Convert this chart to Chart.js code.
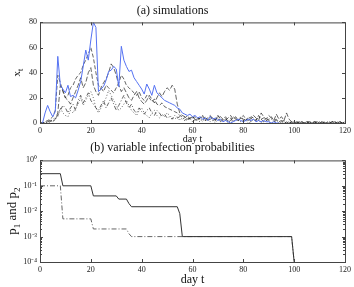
<!DOCTYPE html>
<html>
<head>
<meta charset="utf-8">
<script src="https://cdn.jsdelivr.net/npm/chart.js@4/dist/chart.umd.min.js"></script>
<style>
  body { margin: 0; background: #fff; }
  #wrap { position: relative; width: 354px; height: 287px; }
  canvas { position: absolute; left: 0; }
  #top { top: 0; }
  #bot { top: 140px; }
</style>
</head>
<body>
<div id="wrap">
  <canvas id="top" width="354" height="145"></canvas>
  <canvas id="bot" width="354" height="147"></canvas>
</div>
<script>
// (a) simulations, one value per day 0..120
const days = [];
for (let d = 0; d <= 120; d++) days.push(d);

const blueRun = [null, 0, 8, 14, 9, 5, 9, 53, 30, 27, 24,
  30, 21, 22, 20, 26, 33, 45, 58, 50, 66,
  80, 76, 25, 27, 29, 34, 41, 42, 45, 43,
  29, 61, 50, 45, 41, 42, 36, 33, 30, 27,
  23, 31, 27, 22, 30, 24, 22, 20, 18, 17,
  16, 15, 14, 12, 11, 8, 7, 6, 7, 5,
  6, 4, 5, 3, 4, 2, 5, 3, 4, 2,
  3, 1, 2, 1, 0, 1, 2, 3, 2, 1,
  2, 3, 2, 3, 1, 2, 1, 2, 1, 1,
  0, 1, 0, 0];

const simA = [0, 0, 1, 2, 3, 5, 10, 38, 32, 25, 20,
  22, 28, 30, 35, 38, 40, 46, 50, 55, 60,
  52, 40, 30, 28, 25, 30, 28, 26, 24, 28,
  32, 38, 35, 30, 28, 26, 24, 22, 25, 20,
  18, 22, 20, 17, 19, 15, 14, 16, 13, 12,
  11, 10, 9, 8, 6, 5, 4, 6, 3, 4,
  5, 3, 4, 6, 2, 3, 5, 4, 2, 6,
  3, 2, 4, 1, 2, 5, 3, 2, 4, 6,
  3, 2, 5, 4, 2, 6, 3, 4, 2, 3,
  5, 2, 3, 1, 2, 1, 0, 1, 0, 0,
  0, 1, 0, 0, 1, 0, 0, 1, 0, 0, 1, 0, 0, 0, 1, 0, 0, 1, 0, 0];

const simB = [0, 0, 0, 1, 2, 1, 3, 8, 30, 26, 20,
  18, 15, 20, 25, 30, 36, 28, 32, 40, 44,
  30, 25, 22, 28, 32, 35, 40, 47, 44, 38,
  30, 25, 28, 24, 20, 18, 22, 25, 20, 17,
  15, 18, 22, 19, 16, 20, 24, 21, 25, 28,
  26, 30, 27, 15, 8, 6, 5, 3, 4, 5,
  3, 2, 4, 5, 3, 4, 6, 2, 3, 4,
  5, 3, 2, 4, 6, 3, 5, 2, 4, 3,
  2, 5, 3, 6, 4, 2, 8, 5, 3, 6,
  4, 2, 7, 3, 5, 2, 8, 3, 1, 0,
  1, 0, 1, 0, 0, 1, 0, 0, 1, 0, 0, 1, 0, 0, 0, 1, 0, 1, 0, 0];

const simC = [0, 0, 0, 0, 1, 3, 4, 6, 10, 14, 12,
  8, 12, 15, 10, 18, 22, 16, 20, 24, 18,
  15, 12, 10, 14, 18, 12, 16, 20, 15, 10,
  14, 18, 22, 16, 12, 15, 10, 8, 12, 9,
  7, 10, 12, 8, 6, 10, 8, 5, 7, 4,
  5, 3, 6, 4, 5, 3, 2, 4, 3, 5,
  2, 4, 3, 1, 5, 2, 3, 4, 2, 6,
  1, 3, 5, 2, 4, 1, 3, 2, 5, 3,
  2, 4, 1, 3, 2, 5, 3, 1, 4, 2,
  3, 1, 2, 0, 1, 2, 1, 0, 1, 0,
  1, 0, 1, 0, 1, 1, 0, 1, 0, 1, 1, 0, 1, 0, 1, 1, 0, 1, 0, 1];

const simD = [0, 0, 0, 1, 2, 1, 3, 5, 12, 8, 6,
  5, 10, 8, 12, 15, 20, 14, 18, 22, 25,
  20, 12, 8, 12, 16, 20, 26, 22, 18, 14,
  10, 12, 15, 18, 14, 10, 8, 6, 10, 12,
  8, 6, 4, 8, 10, 6, 4, 7, 5, 8,
  6, 4, 3, 5, 2, 4, 3, 2, 4, 1,
  3, 2, 1, 4, 2, 3, 1, 2, 0, 3,
  2, 1, 3, 0, 2, 1, 4, 2, 1, 3,
  2, 0, 1, 3, 1, 2, 0, 1, 2, 1,
  0, 1, 2, 1, 0, 1, 0, 1, 0, 1,
  0, 1, 1, 0, 0, 1, 0, 1, 1, 0, 1, 0, 0, 1, 1, 0, 1, 0, 0, 1];

// (b) variable infection probabilities, [day, p]
const p1Points = [[0, 0.3], [8, 0.3], [9, 0.1], [20, 0.1], [21, 0.04], [30, 0.04], [31, 0.03],
  [34, 0.03], [35, 0.02], [36, 0.015], [54, 0.015], [55, 0.008], [56, 0.001], [99, 0.001], [100, 0.0001], [101, 0.00001]];
const p2Points = [[0, 0.1], [8, 0.1], [9, 0.005], [20, 0.005], [21, 0.002], [34, 0.002],
  [35, 0.0013], [36, 0.001], [99, 0.001], [100, 0.0001], [101, 0.00001]];

const xTicks = [0, 20, 40, 60, 80, 100, 120];
const logTicks = [1e-4, 1e-3, 1e-2, 1e-1, 1];
const logLabels = ['10\u207B\u2074', '10\u207B\u00B3', '10\u207B\u00B2', '10\u207B\u00B9', '10\u2070'];

const serif = 'Liberation Serif';
const tickFont = { family: serif, size: 8 };

// frame, inward ticks, and y titles with subscripts
const frameTicks = {
  id: 'frameTicks',
  afterDraw(chart, args, opts) {
    const { ctx, chartArea: a } = chart;
    const xs = chart.scales.x, ys = chart.scales.y;
    ctx.save();
    ctx.strokeStyle = '#444';
    ctx.lineWidth = 1;
    ctx.strokeRect(a.left + 0.5, a.top + 0.5, a.right - a.left, a.bottom - a.top);
    ctx.beginPath();
    xs.ticks.forEach((t) => {
      const px = Math.round(xs.getPixelForValue(t.value)) + 0.5;
      ctx.moveTo(px, a.bottom); ctx.lineTo(px, a.bottom - 3);
      ctx.moveTo(px, a.top); ctx.lineTo(px, a.top + 3);
    });
    ys.ticks.forEach((t) => {
      const py = Math.round(ys.getPixelForValue(t.value)) + 0.5;
      ctx.moveTo(a.left, py); ctx.lineTo(a.left + 3, py);
      ctx.moveTo(a.right, py); ctx.lineTo(a.right - 3, py);
    });
    if (opts.minor) {
      for (let e = -4; e < 0; e++) {
        for (let m = 2; m <= 9; m++) {
          const py = Math.round(ys.getPixelForValue(m * Math.pow(10, e))) + 0.5;
          ctx.moveTo(a.left, py); ctx.lineTo(a.left + 2, py);
          ctx.moveTo(a.right, py); ctx.lineTo(a.right - 2, py);
        }
      }
    }
    ctx.stroke();

    // y title, rotated, pieces are [text, isSub]
    ctx.fillStyle = '#111';
    ctx.translate(opts.titleX, (a.top + a.bottom) / 2);
    ctx.rotate(-Math.PI / 2);
    const big = opts.titleSize + 'px ' + serif;
    const small = Math.round(opts.titleSize * 0.7) + 'px ' + serif;
    let w = 0;
    opts.title.forEach(([s, sub]) => { ctx.font = sub ? small : big; w += ctx.measureText(s).width; });
    let x = -w / 2;
    ctx.textBaseline = 'middle';
    opts.title.forEach(([s, sub]) => {
      ctx.font = sub ? small : big;
      ctx.fillText(s, x, sub ? opts.titleSize * 0.35 : 0);
      x += ctx.measureText(s).width;
    });
    ctx.restore();
  },
};

const dashes = [[4, 2], [5, 2], [4, 2, 1, 2], [1, 2]];
const sims = [simA, simB, simC, simD];

new Chart(document.getElementById('top'), {
  type: 'line',
  data: {
    labels: days,
    datasets: [{
      data: blueRun,
      borderColor: '#5572f2',
      borderWidth: 1,
      pointRadius: 0,
      tension: 0,
    }].concat(sims.map((s, i) => ({
      data: s,
      borderColor: '#222',
      borderWidth: 0.7,
      borderDash: dashes[i],
      pointRadius: 0,
      tension: 0,
    }))),
  },
  options: {
    responsive: false,
    animation: false,
    layout: { padding: { right: 9, left: 0, top: 0, bottom: 0 } },
    plugins: {
      legend: { display: false },
      tooltip: { enabled: false },
      title: {
        display: true,
        text: '(a) simulations',
        color: '#111',
        font: { family: serif, size: 12, weight: 'normal' },
        padding: { top: 4, bottom: 4 },
      },
      frameTicks: { title: [['x', false], ['t', true]], titleSize: 11, titleX: 17 },
    },
    scales: {
      x: {
        type: 'linear',
        min: 0,
        max: 120,
        afterBuildTicks: (s) => { s.ticks = xTicks.map((v) => ({ value: v })); },
        afterFit: (s) => { s.height = 22; },
        grid: { display: false, drawTicks: false },
        border: { display: false },
        ticks: { font: tickFont, color: '#222', padding: 3, maxRotation: 0, autoSkip: false },
        title: { display: true, text: 'day t', color: '#111', font: { family: serif, size: 10 }, padding: 0 },
      },
      y: {
        min: 0,
        max: 80,
        afterFit: (s) => { s.width = 40; },
        grid: { display: false, drawTicks: false },
        border: { display: false },
        ticks: { stepSize: 20, font: tickFont, color: '#222', padding: 3 },
      },
    },
  },
  plugins: [frameTicks],
});

const toXY = (pts) => pts.map(([x, y]) => ({ x, y }));

new Chart(document.getElementById('bot'), {
  type: 'line',
  data: {
    datasets: [{
      data: toXY(p1Points),
      borderColor: '#333',
      borderWidth: 1,
      pointRadius: 0,
    }, {
      data: toXY(p2Points),
      borderColor: '#666',
      borderWidth: 1,
      borderDash: [5, 2, 1, 2],
      pointRadius: 0,
    }],
  },
  options: {
    responsive: false,
    animation: false,
    layout: { padding: { right: 9, left: 0, top: 0, bottom: 0 } },
    plugins: {
      legend: { display: false },
      tooltip: { enabled: false },
      title: {
        display: true,
        text: '(b) variable infection probabilities',
        color: '#111',
        font: { family: serif, size: 12, weight: 'normal' },
        padding: { top: 1, bottom: 5 },
      },
      frameTicks: { title: [['p', false], ['1', true], [' and p', false], ['2', true]], titleSize: 13, titleX: 13, minor: true },
    },
    scales: {
      x: {
        type: 'linear',
        min: 0,
        max: 120,
        afterBuildTicks: (s) => { s.ticks = xTicks.map((v) => ({ value: v })); },
        afterFit: (s) => { s.height = 25; },
        grid: { display: false, drawTicks: false },
        border: { display: false },
        ticks: { font: tickFont, color: '#222', padding: 3, maxRotation: 0, autoSkip: false },
        title: { display: true, text: 'day t', color: '#111', font: { family: serif, size: 12 }, padding: 0 },
      },
      y: {
        type: 'logarithmic',
        min: 1e-4,
        max: 1,
        afterBuildTicks: (s) => { s.ticks = logTicks.map((v) => ({ value: v })); },
        afterFit: (s) => { s.width = 40; },
        grid: { display: false, drawTicks: false },
        border: { display: false },
        ticks: {
          font: { family: serif, size: 8 },
          color: '#222',
          padding: 3,
          callback: (v) => logLabels[logTicks.indexOf(v)],
        },
      },
    },
  },
  plugins: [frameTicks],
});
</script>
</body>
</html>
